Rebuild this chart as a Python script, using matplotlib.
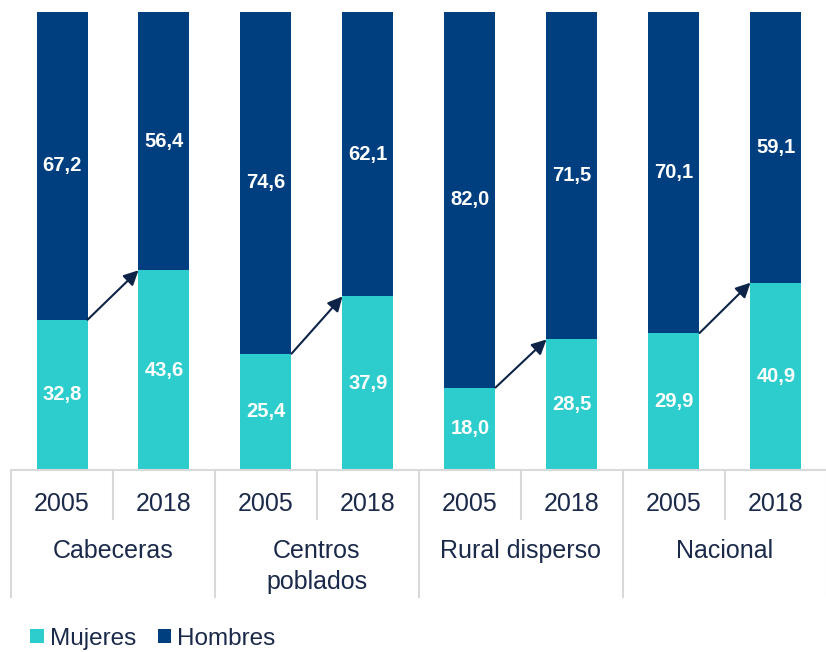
import matplotlib.pyplot as plt
import numpy as np

plt.rcParams["font.family"] = ["Liberation Sans", "DejaVu Sans"]

groups = ["Cabeceras", "Centros\npoblados", "Rural disperso", "Nacional"]
years = ["2005", "2018"]
mujeres = [32.8, 43.6, 25.4, 37.9, 18.0, 28.5, 29.9, 40.9]
hombres = [67.2, 56.4, 74.6, 62.1, 82.0, 71.5, 70.1, 59.1]

TEAL = "#2ECDCD"
NAVY = "#003F7F"
TEXT = "#1B2A4A"
GRID = "#D9D9D9"

fig = plt.figure(figsize=(8.26, 6.52), dpi=100)
ax = fig.add_axes([11 / 826, (652 - 470) / 652, 816 / 826, 458 / 652])

x = np.arange(len(mujeres))
bw = 0.5
ax.bar(x, mujeres, width=bw, color=TEAL, label="Mujeres")
ax.bar(x, hombres, width=bw, bottom=mujeres, color=NAVY, label="Hombres")

def fmt(v):
    return f"{v:.1f}".replace(".", ",")

for i in x:
    ax.text(i, mujeres[i] / 2, fmt(mujeres[i]), ha="center", va="center",
            color="white", fontsize=14.5, fontweight="bold")
    ax.text(i, mujeres[i] + hombres[i] / 2, fmt(hombres[i]), ha="center",
            va="center", color="white", fontsize=14.5, fontweight="bold")

# flechas de 2005 a 2018
for g in range(len(groups)):
    a, b = 2 * g, 2 * g + 1
    ax.annotate("", xy=(b - bw / 2, mujeres[b]), xytext=(a + bw / 2, mujeres[a]),
                arrowprops=dict(arrowstyle="-|>", color="#0D2347", lw=1.5,
                                mutation_scale=22, shrinkA=0, shrinkB=0))

ax.set_xlim(-0.5, len(x) - 0.5)
ax.set_ylim(0, 100)
ax.axis("off")

# eje inferior con dos niveles
trans = ax.get_xaxis_transform()
ax.plot([-0.5, len(x) - 0.5], [0, 0], color=GRID, lw=1.5, transform=trans, clip_on=False)
short_y = -49 / 458
long_y = -127 / 458
for k in range(len(x) + 1):
    xp = k - 0.5
    y1 = long_y if k % 2 == 0 else short_y
    ax.plot([xp, xp], [0, y1], color=GRID, lw=1.5, transform=trans, clip_on=False)

for i in x:
    ax.text(i, -34 / 458, years[i % 2], ha="center", va="center", color=TEXT,
            fontsize=18, transform=trans)
for g, name in enumerate(groups):
    for j, line in enumerate(name.split("\n")):
        ax.text(2 * g + 0.5, -(81 + 31 * j) / 458, line, ha="center", va="center",
                color=TEXT, fontsize=18, transform=trans)

fig.legend(loc="lower left", bbox_to_anchor=(0.01, -0.03), ncol=2, frameon=False,
           fontsize=17.5, handlelength=0.55, handleheight=0.55, handletextpad=0.25,
           columnspacing=0.9, labelcolor=TEXT)

fig.savefig("out.png", dpi=100)
